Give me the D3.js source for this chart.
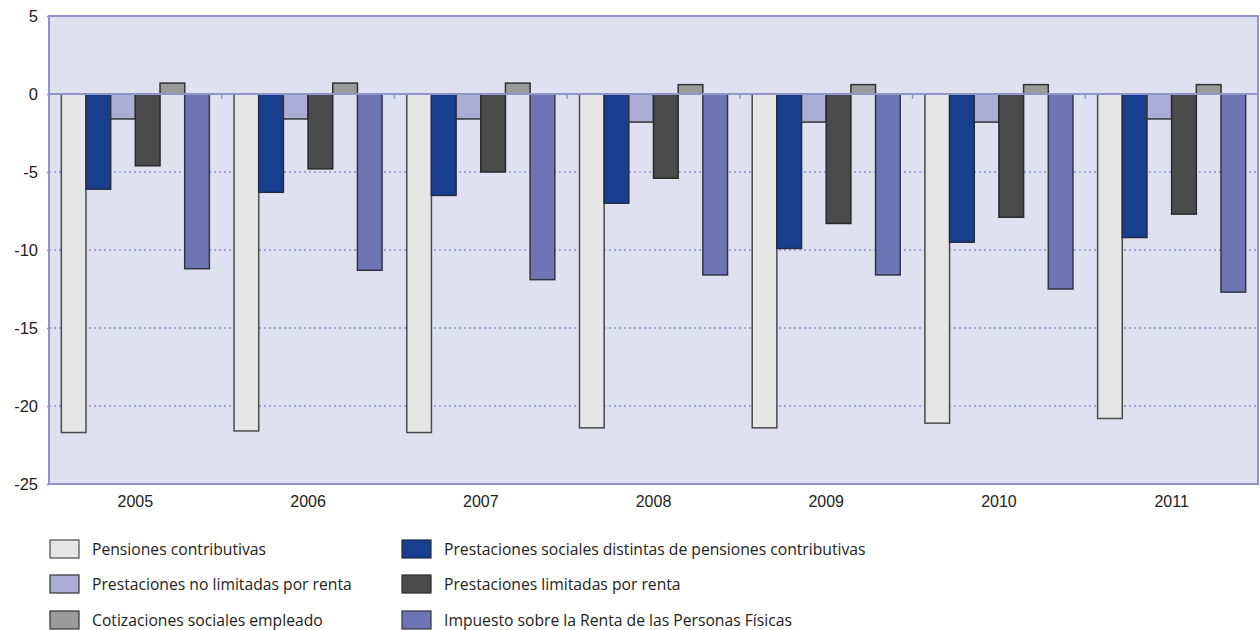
<!DOCTYPE html>
<html>
<head>
<meta charset="utf-8">
<script src="https://cdn.jsdelivr.net/npm/d3@7"></script>
<style>
  html, body { margin: 0; padding: 0; background: #fff; }
  svg { display: block; font-family: "Open Sans", "Noto Sans", sans-serif; }
</style>
</head>
<body>
<svg id="chart" width="1260" height="630"></svg>
<script>
// Years on the x axis
const years = ["2005", "2006", "2007", "2008", "2009", "2010", "2011"];

// Series names (legend order, drawn left to right within each year)
const seriesNames = [
  "Pensiones contributivas",
  "Prestaciones sociales distintas de pensiones contributivas",
  "Prestaciones no limitadas por renta",
  "Prestaciones limitadas por renta",
  "Cotizaciones sociales empleado",
  "Impuesto sobre la Renta de las Personas Físicas"
];

// Values per series, one per year
const pensionesContributivas = [-21.7, -21.6, -21.7, -21.4, -21.4, -21.1, -20.8];
const prestacionesDistintas  = [-6.1, -6.3, -6.5, -7.0, -9.9, -9.5, -9.2];
const prestacionesNoLimitadas = [-1.6, -1.6, -1.6, -1.8, -1.8, -1.8, -1.6];
const prestacionesLimitadas  = [-4.6, -4.8, -5.0, -5.4, -8.3, -7.9, -7.7];
const cotizacionesEmpleado   = [0.7, 0.7, 0.7, 0.6, 0.6, 0.6, 0.6];
const impuestoRenta          = [-11.2, -11.3, -11.9, -11.6, -11.6, -12.5, -12.7];

const seriesValues = [
  pensionesContributivas, prestacionesDistintas, prestacionesNoLimitadas,
  prestacionesLimitadas, cotizacionesEmpleado, impuestoRenta
];

// Y axis ticks
const yTicks = [5, 0, -5, -10, -15, -20, -25];

const colors = ["#e6e6e6", "#183f8f", "#abadd6", "#4b4b4b", "#9b9b9b", "#6d75b4"];
const strokes = ["#4a4a4a", "#222a44", "#333333", "#2a2a2a", "#333333", "#333344"];

const svg = d3.select("#chart");
const plot = { left: 49, right: 1258, top: 16, bottom: 484 };

const x0 = d3.scaleBand().domain(years).range([plot.left, plot.right]).paddingInner(0).paddingOuter(0);
const x1 = d3.scaleBand().domain(d3.range(seriesNames.length)).range([0, x0.bandwidth()]).paddingInner(0).paddingOuter(0.5);
const y = d3.scaleLinear().domain([-25, 5]).range([plot.bottom, plot.top]);

// Plot background
svg.append("rect")
  .attr("x", plot.left).attr("y", plot.top)
  .attr("width", plot.right - plot.left).attr("height", plot.bottom - plot.top)
  .attr("fill", "#dfe0f0");

// Dotted grid lines
svg.append("g")
  .selectAll("line")
  .data(yTicks.filter(t => t < 0 && t > -25))
  .join("line")
  .attr("x1", plot.left).attr("x2", plot.right)
  .attr("y1", d => y(d)).attr("y2", d => y(d))
  .attr("stroke", "#8c90d2")
  .attr("stroke-width", 1.3)
  .attr("stroke-dasharray", "2,3");

// Bars
const groups = svg.append("g")
  .selectAll("g")
  .data(years)
  .join("g")
  .attr("transform", d => `translate(${x0(d)},0)`);

groups.selectAll("rect")
  .data((yr, i) => seriesValues.map((vals, s) => ({ s, v: vals[i] })))
  .join("rect")
  .attr("x", d => x1(d.s))
  .attr("width", x1.bandwidth())
  .attr("y", d => y(Math.max(0, d.v)))
  .attr("height", d => Math.abs(y(d.v) - y(0)))
  .attr("fill", d => colors[d.s])
  .attr("stroke", d => strokes[d.s])
  .attr("stroke-width", 1.5);

// Zero line with category tick marks
svg.append("line")
  .attr("x1", plot.left).attr("x2", plot.right)
  .attr("y1", y(0)).attr("y2", y(0))
  .attr("stroke", "#8f95c8").attr("stroke-width", 2);

svg.append("g")
  .selectAll("line")
  .data(years.slice(1))
  .join("line")
  .attr("x1", d => x0(d)).attr("x2", d => x0(d))
  .attr("y1", y(0)).attr("y2", y(0) + 5)
  .attr("stroke", "#8f95c8").attr("stroke-width", 1.5);

// Plot frame
svg.append("rect")
  .attr("x", plot.left).attr("y", plot.top)
  .attr("width", plot.right - plot.left).attr("height", plot.bottom - plot.top)
  .attr("fill", "none")
  .attr("stroke", "#8f93c8").attr("stroke-width", 2);

// Y axis (plain hyphen for negatives)
const yAxis = svg.append("g")
  .attr("transform", `translate(${plot.left},0)`)
  .call(d3.axisLeft(y).tickValues(yTicks).tickSize(2).tickPadding(9).tickFormat(d => String(d)));
yAxis.select(".domain").remove();
yAxis.selectAll(".tick line").attr("stroke", "#8f93c8").attr("stroke-width", 1.5);
yAxis.selectAll(".tick text").attr("fill", "#222").style("font-size", "16.5px");

// X axis labels
const xAxis = svg.append("g")
  .attr("transform", `translate(0,${plot.bottom})`)
  .call(d3.axisBottom(x0).tickSize(0).tickPadding(12));
xAxis.select(".domain").remove();
xAxis.selectAll(".tick text").attr("fill", "#222").style("font-size", "16px");

// Legend in two columns of three rows
const legend = svg.append("g");
const legendCols = [50, 402];
const legendRows = [549, 584, 620];
const legendItems = legend.selectAll("g")
  .data(seriesNames)
  .join("g")
  .attr("transform", (d, i) => `translate(${legendCols[i % 2]},${legendRows[Math.floor(i / 2)]})`);

legendItems.append("rect")
  .attr("x", 0).attr("y", -9)
  .attr("width", 29).attr("height", 18)
  .attr("fill", (d, i) => colors[i])
  .attr("stroke", (d, i) => strokes[i])
  .attr("stroke-width", 1.2);

legendItems.append("text")
  .attr("x", 42).attr("y", 0)
  .attr("dy", "0.35em")
  .attr("fill", "#222")
  .style("font-size", "15.7px")
  .text(d => d);
</script>
</body>
</html>
